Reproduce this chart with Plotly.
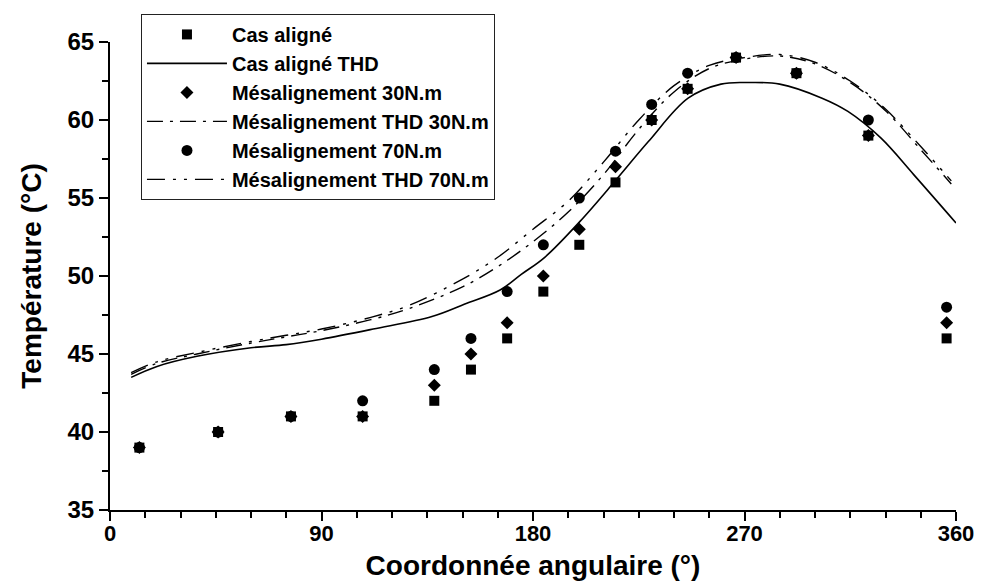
import plotly.graph_objects as go

# ---- data ----
angle_pts = [12.5, 46, 77, 107.5, 138, 153.6, 169, 184.4, 199.7, 215.1, 230.5, 245.8, 266.4, 292.1, 322.7, 356]
temp_aligned = [39, 40, 41, 41, 42, 44, 46, 49, 52, 56, 60, 62, 64, 63, 59, 46]
temp_mis30 = [39, 40, 41, 41, 43, 45, 47, 50, 53, 57, 60, 62, 64, 63, 59, 47]
temp_mis70 = [39, 40, 41, 42, 44, 46, 49, 52, 55, 58, 61, 63, 64, 63, 60, 48]

thd_angle_al = [9, 20, 37, 60, 75, 90, 112, 137, 151, 166, 175, 185, 200, 215, 229, 246, 260, 271, 285, 303, 314, 328, 342, 360]
thd_aligned = [43.5, 44.2, 44.85, 45.4, 45.6, 45.95, 46.6, 47.4, 48.2, 49.1, 50.1, 51.2, 53.5, 56.1, 58.6, 61.4, 62.3, 62.4, 62.3, 61.4, 60.55, 58.85, 56.5, 53.4]

thd_angle_mis = [9, 20, 37, 60, 75, 90, 111, 127, 150, 165, 180, 195, 210, 225, 240, 255, 270, 285, 300, 315, 330, 345, 358]
thd_mis30 = [43.7, 44.4, 45.0, 45.7, 46.1, 46.5, 47.2, 47.9, 49.3, 50.6, 52.2, 54.1, 56.5, 59.4, 61.8, 63.3, 63.9, 64.1, 63.6, 62.4, 60.6, 58.1, 55.9]
thd_mis70 = [43.8, 44.5, 45.1, 45.8, 46.2, 46.6, 47.35, 48.1, 49.8, 51.2, 53.0, 54.8, 57.3, 60.0, 62.2, 63.5, 64.0, 64.2, 63.7, 62.5, 60.7, 58.3, 56.1]

x_ticks = [0, 90, 180, 270, 360]
y_ticks = [35, 40, 45, 50, 55, 60, 65]

FONT = "Liberation Sans, Arial, sans-serif"

fig = go.Figure()
fig.add_trace(go.Scatter(x=angle_pts, y=temp_aligned, mode="markers", name="Cas aligné",
                         marker=dict(symbol="square", size=10, color="black")))
fig.add_trace(go.Scatter(x=thd_angle_al, y=thd_aligned, mode="lines", name="Cas aligné THD",
                         line=dict(color="black", width=1.6, shape="spline")))
fig.add_trace(go.Scatter(x=angle_pts, y=temp_mis30, mode="markers", name="Mésalignement 30N.m",
                         marker=dict(symbol="diamond", size=10, color="black")))
fig.add_trace(go.Scatter(x=thd_angle_mis, y=thd_mis30, mode="lines", name="Mésalignement THD 30N.m",
                         line=dict(color="black", width=1.4, shape="spline",
                                   dash="16px,7px,3px,7px")))
fig.add_trace(go.Scatter(x=angle_pts, y=temp_mis70, mode="markers", name="Mésalignement 70N.m",
                         marker=dict(symbol="circle", size=11, color="black")))
fig.add_trace(go.Scatter(x=thd_angle_mis, y=thd_mis70, mode="lines", name="Mésalignement THD 70N.m",
                         line=dict(color="black", width=1.4, shape="spline",
                                   dash="18px,8px,3px,8px,3px,8px")))

fig.update_layout(
    width=993, height=588,
    margin=dict(l=102, r=45, t=34, b=86, autoexpand=False),
    plot_bgcolor="white", paper_bgcolor="white",
    font=dict(family=FONT, color="black"),
    legend=dict(x=0.0366, y=1.06, xanchor="left", yanchor="top",
                bordercolor="#222", borderwidth=1, bgcolor="white",
                font=dict(family=FONT, size=20, color="black", weight="bold"),
                itemwidth=80, traceorder="normal"),
    xaxis=dict(range=[0, 360], tickvals=x_ticks, ticktext=[str(v) for v in x_ticks],
               showgrid=False, zeroline=False, showline=True, linecolor="black", linewidth=2,
               ticks="outside", ticklen=9, tickwidth=2, tickcolor="black",
               ticklabelstandoff=-6,
               minor=dict(dtick=15, ticks="outside", ticklen=6, tickwidth=2, tickcolor="black", showgrid=False),
               tickfont=dict(family=FONT, size=22, weight="bold"),
               title=dict(text="Coordonnée angulaire (°)", standoff=10,
                          font=dict(family=FONT, size=28, weight="bold"))),
    yaxis=dict(range=[35, 65], tickvals=y_ticks, ticktext=[str(v) for v in y_ticks],
               showgrid=False, zeroline=False, showline=True, linecolor="black", linewidth=2,
               ticks="outside", ticklen=9, tickwidth=2, tickcolor="black",
               minor=dict(dtick=2.5, ticks="outside", ticklen=6, tickwidth=2, tickcolor="black", showgrid=False),
               tickfont=dict(family=FONT, size=24, weight="bold"),
               title=dict(text="Température (°C)", standoff=18,
                          font=dict(family=FONT, size=28, weight="bold"))),
)

fig.write_html("out.html")
